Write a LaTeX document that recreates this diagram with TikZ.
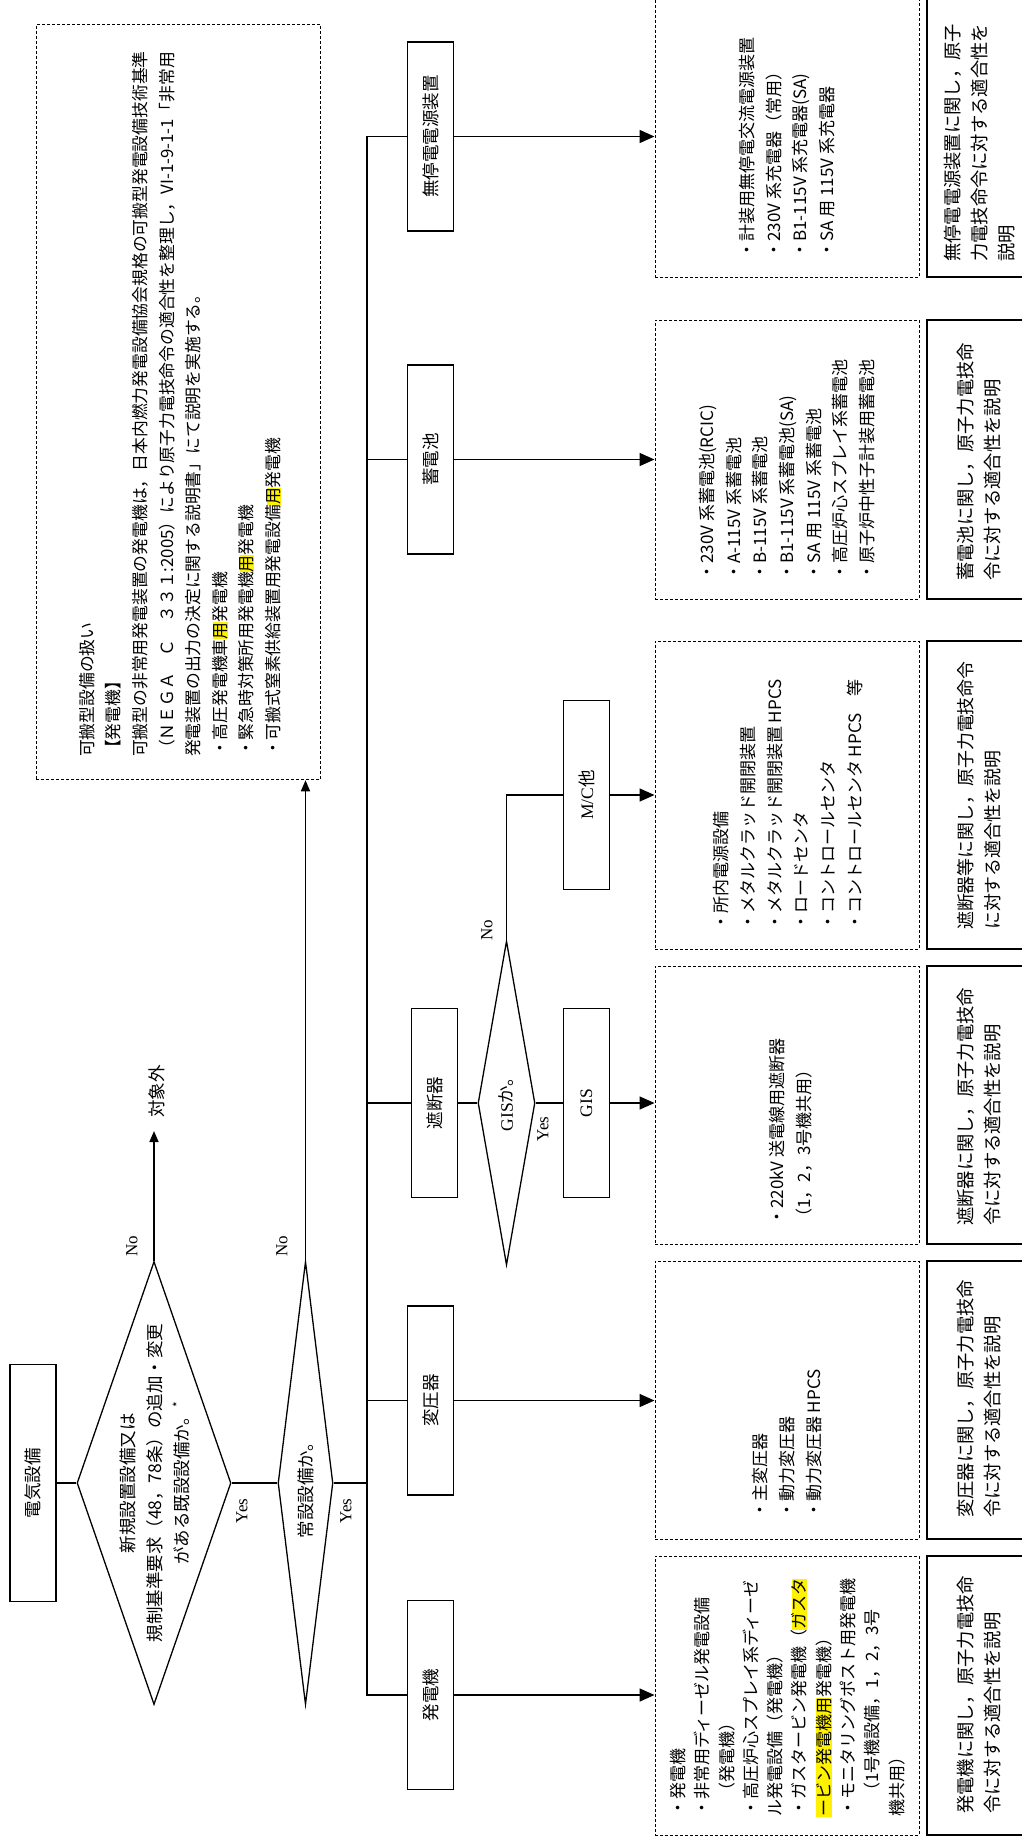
\documentclass[tikz,border=0pt]{standalone}
\usepackage{fontspec}
\setmainfont{Noto Sans CJK JP}
\newfontfamily\latin{Liberation Serif}
\usepackage{graphicx}
\usetikzlibrary{shapes.geometric,arrows.meta}
\newcommand\hlt[1]{{\setlength{\fboxsep}{0pt}\colorbox{yellow}{#1}}}
\newcommand\rt[1]{\rotatebox{90}{#1}}
\newcommand\fsz[2]{\fontsize{#1}{#2}\selectfont}
\begin{document}
\begin{tikzpicture}[x=1pt,y=-1pt,
  conn/.style={line width=1.6pt},
  arr/.style={conn,-{Triangle[length=15pt,width=13pt]}},
  sarr/.style={conn,-{Triangle[length=11pt,width=9pt]}},
  fbox/.style={draw,line width=1.4pt,minimum width=46pt,minimum height=189pt,inner sep=0pt,font=\fsz{17.5}{20}},
  dia/.style={draw,diamond,line width=1.3pt,inner sep=0pt},
  dbox/.style={draw,dash pattern=on 3pt off 2pt,line width=1pt,minimum width=264pt,inner sep=0pt},
  ebox/.style={draw,line width=1.5pt,minimum width=118pt,inner sep=0pt},
  txt/.style={rotate=90,anchor=west,align=left,inner sep=0pt},
  ctxt/.style={rotate=90,align=center,inner sep=0pt,font=\fsz{17.5}{27}},
  lbl/.style={rotate=90,inner sep=0pt,font=\latin\fsz{17}{20}}]
\useasboundingbox (0,0) rectangle (1022,1836);
\fill[white] (0,0) rectangle (1022,1836);
\clip (0,0) rectangle (1022,1836);

% top dashed box
\node[dbox,minimum width=284pt,minimum height=755.5pt] (kahan) at (178,402) {};
\node[txt,font=\fsz{16.8}{26.6}] (kahanT) at (180,757) {可搬型設備の扱い\\%
【発電機】\\%
可搬型の非常用発電装置の発電機は，日本内燃力発電設備協会規格の可搬型発電設備技術基準\\%
（ＮＥＧＡ　Ｃ　３３１:2005）により原子力電技命令の適合性を整理し，VI-1-9-1-1「非常用\\%
発電装置の出力の決定に関する説明書」にて説明を実施する。\\%
・高圧発電機車\hlt{用}発電機\\%
・緊急時対策所用発電機\hlt{用}発電機\\%
・可搬式窒素供給装置用発電設備\hlt{用}発電機};

% flow start
\node[fbox,minimum height=237pt] (elec) at (33,1483) {\rt{電気設備}};
\node[dia,minimum width=154pt,minimum height=443pt] (d1) at (154,1483) {};
\node[ctxt] (d1t) at (155,1483) {新規設置設備又は\\規制基準要求（48，78条）の追加・変更\\がある既設設備か。\textsuperscript{*}};
\node[dia,minimum width=55pt,minimum height=443pt] (d2) at (305.5,1483) {};
\node[ctxt] (d2t) at (305.5,1486) {常設設備か。};
\node[rotate=90,inner sep=0pt,anchor=west,font=\fsz{17.5}{20}] (taisho) at (157,1118) {対象外};
\coordinate (tip1) at (154,1131);

\node[lbl] (no1) at (132,1246) {No};
\node[lbl] (yes1) at (242,1511) {Yes};
\node[lbl] (no2) at (282,1246) {No};
\node[lbl] (yes2) at (346,1511) {Yes};

% category boxes
\coordinate (tk) at (367,0);
\node[fbox] (ups) at (430.5,136.5) {\rt{無停電電源装置}};
\node[fbox] (bat) at (430.5,459.5) {\rt{蓄電池}};
\node[fbox] (brk) at (434.5,1103) {\rt{遮断器}};
\node[fbox] (tr) at (430.5,1400.5) {\rt{変圧器}};
\node[fbox] (gen) at (430.5,1695) {\rt{発電機}};
\node[dia,minimum width=57pt,minimum height=324pt] (gd) at (506.5,1103) {};
\node[ctxt] (gdt) at (506.5,1100) {{\latin GIS}か。};
\node[fbox] (gis) at (586.5,1103) {\rt{\latin GIS}};
\node[fbox] (mc) at (586.5,795) {\rt{{\latin M/C}他}};
\node[lbl] (nog) at (487,930) {No};
\node[lbl] (yesg) at (543,1129) {Yes};

% dashed list boxes
\node[dbox,minimum height=307pt] (upsL) at (787,123.5) {};
\node[dbox,minimum height=279pt] (batL) at (787,459.5) {};
\node[dbox,minimum height=308pt] (mcL) at (787,795) {};
\node[dbox,minimum height=278pt] (brkL) at (787,1105) {};
\node[dbox,minimum height=278pt] (trL) at (787,1400) {};
\node[dbox,minimum height=279pt] (genL) at (787,1695.5) {};

% explanation boxes
\node[ebox,minimum height=307pt] (upsE) at (986,123.5) {};
\node[ebox,minimum height=279pt] (batE) at (986,459.5) {};
\node[ebox,minimum height=308pt] (mcE) at (986,795) {};
\node[ebox,minimum height=278pt] (brkE) at (986,1105) {};
\node[ebox,minimum height=278pt] (trE) at (986,1400) {};
\node[ebox,minimum height=279pt] (genE) at (986,1695.5) {};

% list texts
\node[txt,font=\fsz{17}{26.7}] (upsT) at (787,259) {・計装用無停電交流電源装置\\・230V 系充電器（常用）\\・B1-115V 系充電器(SA)\\・SA 用 115V 系充電器};
\node[txt,font=\fsz{17}{26.7}] (batT) at (787,581) {・230V 系蓄電池(RCIC)\\・A-115V 系蓄電池\\・B-115V 系蓄電池\\・B1-115V 系蓄電池(SA)\\・SA 用 115V 系蓄電池\\・高圧炉心スプレイ系蓄電池\\・原子炉中性子計装用蓄電池};
\node[txt,font=\fsz{17}{26.7}] (mcT) at (788,931) {・所内電源設備\\・メタルクラッド開閉装置\\・メタルクラッド開閉装置 HPCS\\・ロードセンタ\\・コントロールセンタ\\・コントロールセンタ HPCS　等};
\node[txt,font=\fsz{17}{26.7}] (brkT) at (791,1226) {・220kV 送電線用遮断器\\（1，2，3号機共用）};
\node[txt,font=\fsz{17}{26.7}] (trT) at (787,1519) {・主変圧器\\・動力変圧器\\・動力変圧器 HPCS};
\node[txt,font=\fsz{17}{24.3}] (genT) at (787.5,1817) {・発電機\\・非常用ディーゼル発電設備\\　（発電機）\\・高圧炉心スプレイ系ディーゼ\\ル発電設備（発電機）\\・ガスタービン発電機（\hlt{ガスタ}\\\hlt{ービン発電機用}発電機）\\・モニタリングポスト用発電機\\　（1号機設備，1，2，3号\\機共用）};

% explanation texts
\node[txt,font=\fsz{18.3}{27}] (upsX) at (980,262) {無停電電源装置に関し，原子\\力電技命令に対する適合性を\\説明};
\node[txt,font=\fsz{18.3}{27}] (batX) at (979,581) {蓄電池に関し，原子力電技命\\令に対する適合性を説明};
\node[txt,font=\fsz{17.9}{27}] (mcX) at (979,930) {遮断器等に関し，原子力電技命令\\に対する適合性を説明};
\node[txt,font=\fsz{18.3}{27}] (brkX) at (979,1226) {遮断器に関し，原子力電技命\\令に対する適合性を説明};
\node[txt,font=\fsz{18.3}{27}] (trX) at (979,1518) {変圧器に関し，原子力電技命\\令に対する適合性を説明};
\node[txt,font=\fsz{18.3}{27}] (genX) at (979,1814) {発電機に関し，原子力電技命\\令に対する適合性を説明};

% connectors
\draw[conn] (elec.east) -- (d1.west);
\draw[conn] (d1.east) -- (d2.west);
\draw[sarr] (d1.north) -- (d1.north |- tip1);
\draw[sarr] (d2.north) -- (d2.north |- kahan.south);
\draw[conn] (d2.east) -- (d2.east -| tk);
\draw[conn] (ups.west) -- (ups.west -| tk) -- (gen.west -| tk) -- (gen.west);
\draw[conn] (bat.west) -- (bat.west -| tk);
\draw[conn] (brk.west) -- (brk.west -| tk);
\draw[conn] (tr.west) -- (tr.west -| tk);
\draw[conn] (brk.east) -- (gd.west);
\draw[conn] (gd.east) -- (gis.west);
\draw[conn] (gd.north) |- (mc.west);
\draw[arr] (ups.east) -- (ups.east -| upsL.west);
\draw[arr] (bat.east) -- (bat.east -| batL.west);
\draw[arr] (mc.east) -- (mc.east -| mcL.west);
\draw[arr] (gis.east) -- (gis.east -| brkL.west);
\draw[arr] (tr.east) -- (tr.east -| trL.west);
\draw[arr] (gen.east) -- (gen.east -| genL.west);
\end{tikzpicture}
\end{document}
